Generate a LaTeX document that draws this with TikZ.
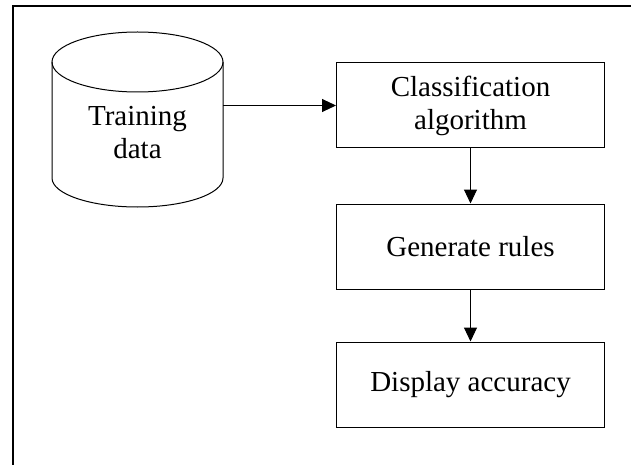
\documentclass[tikz,border=0pt]{standalone}
\usepackage{fontspec}
\setmainfont{Liberation Serif}
\usetikzlibrary{arrows.meta}
\begin{document}
\begin{tikzpicture}[x=1pt,y=-1pt,
  every node/.style={font=\fontsize{29}{33}\selectfont, align=center},
  procbox/.style={draw, line width=1pt, minimum width=268pt, minimum height=85pt, inner sep=0pt},
  flow/.style={line width=1pt, -{Triangle[length=14pt,width=13pt]}}]
\useasboundingbox (0,0) rectangle (631,465);
% frame (top and left edges)
\draw[line width=2pt] (13,465) -- (13,6) -- (631,6);
% database cylinder
\draw[line width=1pt] (52,62) -- (52,178) arc[start angle=180, end angle=360, x radius=85.5pt, y radius=29pt] -- (223,62);
\draw[line width=1pt] (137.5,62) ellipse[x radius=85.5pt, y radius=30pt];
\node (db) at (137.5,133) {Training\\data};
\coordinate (dbout) at (223,105.5);
% process boxes
\node[procbox] (c1) at (470.5,105.5) {Classification\\algorithm};
\node[procbox] (c2) at (470.5,246.5) {Generate rules};
\node[procbox] (c3) at (470.5,384.5) {Display accuracy};
% connectors
\draw[flow] (dbout) -- (c1.west);
\draw[flow] (c1) -- (c2);
\draw[flow] (c2) -- (c3);
\end{tikzpicture}
\end{document}
